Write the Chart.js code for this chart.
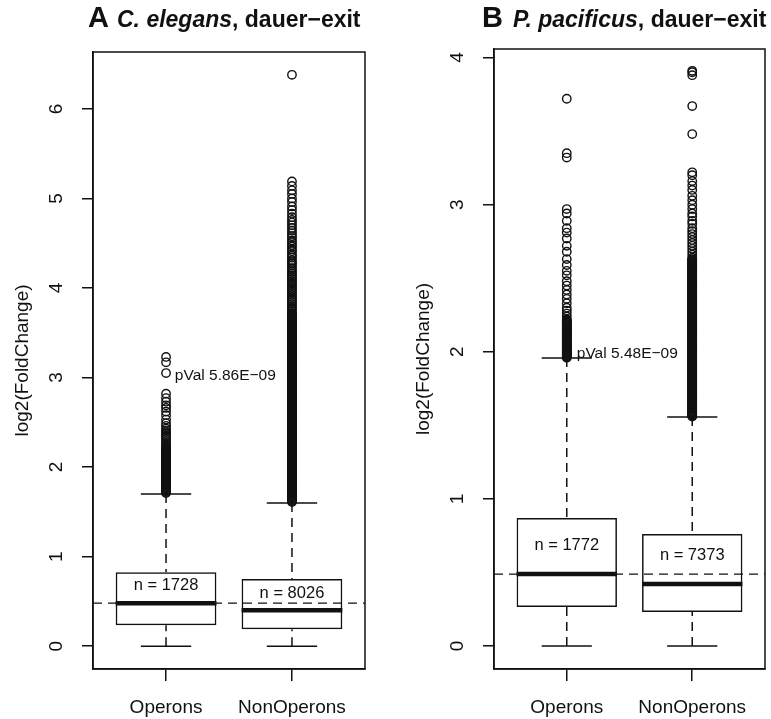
<!DOCTYPE html>
<html>
<head>
<meta charset="utf-8">
<script src="https://cdn.jsdelivr.net/npm/chart.js@4.4.1/dist/chart.umd.min.js"></script>
<style>
  html, body { margin: 0; padding: 0; background: #fff; }
  #wrap { position: relative; width: 771px; height: 719px; }
  canvas { position: absolute; top: 0; }
</style>
</head>
<body>
<div id="wrap">
  <canvas id="panelA" width="390" height="719" style="left:0"></canvas>
  <canvas id="panelB" width="381" height="719" style="left:390px"></canvas>
</div>
<script>
const FONT = "'Liberation Sans', Arial, Helvetica, sans-serif";
const INK = '#111';

// shared categories
const groups = ['Operons', 'NonOperons'];
const groupX = [1, 2];

// ---- panel A: C. elegans, dauer-exit
const aTicks = [0, 1, 2, 3, 4, 5, 6];
const aLow = [0, 0];
const aQ1 = [0.234, 0.19];
const aMedian = [0.48, 0.40];
const aQ3 = [0.826, 0.75];
const aHigh = [1.70, 1.60];
const aRefLine = 0.48;
const aCounts = ['n = 1728', 'n = 8026'];
const aCountY = [0.675, 0.586];
const aPval = 'pVal 5.86E\u221209';
const aPvalAt = [1.07, 3.015];
const aOutOperons = [3.23, 3.17, 3.05, 2.82, 2.77, 2.73, 2.69, 2.66, 2.62, 2.58, 2.53, 2.49, 2.46, 2.43,
  2.41, 2.39, 2.37, 2.35, 2.33, 2.31, 2.29, 2.27, 2.25, 2.23,
  2.22, 2.21, 2.20, 2.19, 2.18, 2.17, 2.16, 2.15, 2.14, 2.13, 2.12, 2.11, 2.10, 2.09, 2.08, 2.07,
  2.06, 2.05, 2.04, 2.03, 2.02, 2.01, 2.00, 1.99, 1.98, 1.97, 1.96, 1.95, 1.94, 1.93, 1.92, 1.91,
  1.90, 1.89, 1.88, 1.87, 1.86, 1.85, 1.84, 1.83, 1.82, 1.81, 1.80, 1.79, 1.78, 1.77, 1.76, 1.75,
  1.74, 1.73, 1.72, 1.71];
const aOutNon = [6.38, 5.19, 5.14, 5.09, 5.05, 5.00, 4.96, 4.91, 4.87, 4.83, 4.79, 4.76, 4.73, 4.70,
  4.67, 4.64, 4.61, 4.58, 4.56, 4.53, 4.51, 4.48, 4.46, 4.43, 4.41, 4.38, 4.36, 4.34, 4.31, 4.29, 4.27,
  4.25, 4.22, 4.20, 4.18, 4.16, 4.14, 4.12, 4.10, 4.08, 4.06, 4.04, 4.02, 4.00, 3.98, 3.96, 3.94, 3.92,
  3.90, 3.88, 3.86, 3.84, 3.82, 3.80, 3.78, 3.76, 3.74, 3.72,
  3.71, 3.70, 3.69, 3.68, 3.67, 3.66, 3.65, 3.64, 3.63, 3.62,
  3.61, 3.60, 3.59, 3.58, 3.57, 3.56, 3.55, 3.54, 3.53, 3.52,
  3.51, 3.50, 3.49, 3.48, 3.47, 3.46, 3.45, 3.44, 3.43, 3.42,
  3.41, 3.40, 3.39, 3.38, 3.37, 3.36, 3.35, 3.34, 3.33, 3.32,
  3.31, 3.30, 3.29, 3.28, 3.27, 3.26, 3.25, 3.24, 3.23, 3.22,
  3.21, 3.20, 3.19, 3.18, 3.17, 3.16, 3.15, 3.14, 3.13, 3.12,
  3.11, 3.10, 3.09, 3.08, 3.07, 3.06, 3.05, 3.04, 3.03, 3.02,
  3.01, 3.00, 2.99, 2.98, 2.97, 2.96, 2.95, 2.94, 2.93, 2.92,
  2.91, 2.90, 2.89, 2.88, 2.87, 2.86, 2.85, 2.84, 2.83, 2.82,
  2.81, 2.80, 2.79, 2.78, 2.77, 2.76, 2.75, 2.74, 2.73, 2.72,
  2.71, 2.70, 2.69, 2.68, 2.67, 2.66, 2.65, 2.64, 2.63, 2.62,
  2.61, 2.60, 2.59, 2.58, 2.57, 2.56, 2.55, 2.54, 2.53, 2.52,
  2.51, 2.50, 2.49, 2.48, 2.47, 2.46, 2.45, 2.44, 2.43, 2.42,
  2.41, 2.40, 2.39, 2.38, 2.37, 2.36, 2.35, 2.34, 2.33, 2.32,
  2.31, 2.30, 2.29, 2.28, 2.27, 2.26, 2.25, 2.24, 2.23, 2.22,
  2.21, 2.20, 2.19, 2.18, 2.17, 2.16, 2.15, 2.14, 2.13, 2.12,
  2.11, 2.10, 2.09, 2.08, 2.07, 2.06, 2.05, 2.04, 2.03, 2.02,
  2.01, 2.00, 1.99, 1.98, 1.97, 1.96, 1.95, 1.94, 1.93, 1.92,
  1.91, 1.90, 1.89, 1.88, 1.87, 1.86, 1.85, 1.84, 1.83, 1.82,
  1.81, 1.80, 1.79, 1.78, 1.77, 1.76, 1.75, 1.74, 1.73, 1.72,
  1.71, 1.70, 1.69, 1.68, 1.67, 1.66, 1.65, 1.64, 1.63, 1.62, 1.61];

// ---- panel B: P. pacificus, dauer-exit
const bTicks = [0, 1, 2, 3, 4];
const bLow = [0, 0];
const bQ1 = [0.265, 0.231];
const bMedian = [0.489, 0.421];
const bQ3 = [0.870, 0.761];
const bHigh = [1.958, 1.557];
const bRefLine = 0.489;
const bCounts = ['n = 1772', 'n = 7373'];
const bCountY = [0.683, 0.615];
const bPval = 'pVal 5.48E\u221209';
const bPvalAt = [1.08, 1.99];
const bOutOperons = [3.72, 3.35, 3.32, 2.97, 2.94, 2.89, 2.84, 2.81, 2.77, 2.72, 2.68, 2.63, 2.59, 2.55,
  2.52, 2.48, 2.45, 2.42, 2.39, 2.36, 2.33, 2.30, 2.28, 2.26, 2.24, 2.22,
  2.215, 2.210, 2.205, 2.200, 2.195, 2.190, 2.185, 2.180, 2.175, 2.170,
  2.165, 2.160, 2.155, 2.150, 2.145, 2.140, 2.135, 2.130, 2.125, 2.120,
  2.115, 2.110, 2.105, 2.100, 2.095, 2.090, 2.085, 2.080, 2.075, 2.070,
  2.065, 2.060, 2.055, 2.050, 2.045, 2.040, 2.035, 2.030, 2.025, 2.020,
  2.015, 2.010, 2.005, 2.000, 1.995, 1.990, 1.985, 1.980, 1.975, 1.970, 1.965, 1.960];
const bOutNon = [3.91, 3.90, 3.88, 3.67, 3.48, 3.22, 3.20, 3.16, 3.13, 3.10, 3.06, 3.03, 3.00, 2.97, 2.94,
  2.92, 2.89, 2.87, 2.84, 2.82, 2.80, 2.78, 2.76, 2.74, 2.72, 2.70, 2.68, 2.66, 2.64,
  2.630, 2.625, 2.620, 2.615, 2.610, 2.605, 2.600, 2.595, 2.590, 2.585,
  2.580, 2.575, 2.570, 2.565, 2.560, 2.555, 2.550, 2.545, 2.540, 2.535,
  2.530, 2.525, 2.520, 2.515, 2.510, 2.505, 2.500, 2.495, 2.490, 2.485,
  2.480, 2.475, 2.470, 2.465, 2.460, 2.455, 2.450, 2.445, 2.440, 2.435,
  2.430, 2.425, 2.420, 2.415, 2.410, 2.405, 2.400, 2.395, 2.390, 2.385,
  2.380, 2.375, 2.370, 2.365, 2.360, 2.355, 2.350, 2.345, 2.340, 2.335,
  2.330, 2.325, 2.320, 2.315, 2.310, 2.305, 2.300, 2.295, 2.290, 2.285,
  2.280, 2.275, 2.270, 2.265, 2.260, 2.255, 2.250, 2.245, 2.240, 2.235,
  2.230, 2.225, 2.220, 2.215, 2.210, 2.205, 2.200, 2.195, 2.190, 2.185,
  2.180, 2.175, 2.170, 2.165, 2.160, 2.155, 2.150, 2.145, 2.140, 2.135,
  2.130, 2.125, 2.120, 2.115, 2.110, 2.105, 2.100, 2.095, 2.090, 2.085,
  2.080, 2.075, 2.070, 2.065, 2.060, 2.055, 2.050, 2.045, 2.040, 2.035,
  2.030, 2.025, 2.020, 2.015, 2.010, 2.005, 2.000, 1.995, 1.990, 1.985,
  1.980, 1.975, 1.970, 1.965, 1.960, 1.955, 1.950, 1.945, 1.940, 1.935,
  1.930, 1.925, 1.920, 1.915, 1.910, 1.905, 1.900, 1.895, 1.890, 1.885,
  1.880, 1.875, 1.870, 1.865, 1.860, 1.855, 1.850, 1.845, 1.840, 1.835,
  1.830, 1.825, 1.820, 1.815, 1.810, 1.805, 1.800, 1.795, 1.790, 1.785,
  1.780, 1.775, 1.770, 1.765, 1.760, 1.755, 1.750, 1.745, 1.740, 1.735,
  1.730, 1.725, 1.720, 1.715, 1.710, 1.705, 1.700, 1.695, 1.690, 1.685,
  1.680, 1.675, 1.670, 1.665, 1.660, 1.655, 1.650, 1.645, 1.640, 1.635,
  1.630, 1.625, 1.620, 1.615, 1.610, 1.605, 1.600, 1.595, 1.590, 1.585,
  1.580, 1.575, 1.570, 1.565, 1.560];

const X_MIN = 0.42, X_MAX = 2.58;
const BOX_HALF = 0.4, CAP_HALF = 0.2;

// draws titles, frame and the in-plot text labels
const decor = {
  id: 'decor',
  afterDraw(chart, args, o) {
    const { ctx, chartArea: a, scales: { x, y } } = chart;
    ctx.save();
    ctx.strokeStyle = INK; ctx.lineWidth = 1.5;
    ctx.strokeRect(a.left, a.top, a.right - a.left, a.bottom - a.top);
    ctx.fillStyle = INK; ctx.textAlign = 'left'; ctx.textBaseline = 'alphabetic';
    ctx.font = `bold 29px ${FONT}`;
    ctx.fillText(o.letter, o.letterX, 27);
    ctx.font = `italic bold 23px ${FONT}`;
    ctx.fillText(o.species, o.textX, 27);
    const w = ctx.measureText(o.species).width;
    ctx.font = `bold 23px ${FONT}`;
    ctx.fillText(', dauer\u2212exit', o.textX + w, 27);
    ctx.textBaseline = 'middle';
    ctx.textAlign = 'center';
    ctx.font = `16.5px ${FONT}`;
    o.counts.forEach((t, i) => ctx.fillText(t, x.getPixelForValue(groupX[i]), y.getPixelForValue(o.countY[i])));
    ctx.textAlign = 'left';
    ctx.font = `15.5px ${FONT}`;
    ctx.fillText(o.pval, x.getPixelForValue(o.pvalAt[0]), y.getPixelForValue(o.pvalAt[1]));
    ctx.restore();
  }
};

function panel(canvas, p) {
  const gap = (i) => ({ x: groupX[i], y: null });
  const whiskers = groupX.flatMap((gx, i) => [
    { x: gx, y: p.high[i] }, { x: gx, y: p.q3[i] }, gap(i),
    { x: gx, y: p.low[i] }, { x: gx, y: p.q1[i] }, gap(i)]);
  const caps = groupX.flatMap((gx, i) => [
    { x: gx - CAP_HALF, y: p.high[i] }, { x: gx + CAP_HALF, y: p.high[i] }, gap(i),
    { x: gx - CAP_HALF, y: p.low[i] }, { x: gx + CAP_HALF, y: p.low[i] }, gap(i)]);
  const medians = groupX.flatMap((gx, i) => [
    { x: gx - BOX_HALF, y: p.median[i] }, { x: gx + BOX_HALF, y: p.median[i] }, gap(i)]);
  const boxes = groupX.map((gx, i) => ({ x: gx, y: [p.q1[i], p.q3[i]] }));
  const outliers = p.out.flatMap((vals, i) => vals.map((v) => ({ x: groupX[i], y: v })));
  const line = { type: 'line', pointRadius: 0, tension: 0, fill: false, spanGaps: false, borderColor: INK, borderCapStyle: 'butt' };

  return new Chart(canvas.getContext('2d'), {
    type: 'scatter',
    data: {
      datasets: [
        { ...line, order: 0, data: [{ x: X_MIN, y: p.ref }, { x: X_MAX, y: p.ref }], borderWidth: 1.3, borderDash: [9, 6] },
        { ...line, order: 1, data: medians, borderWidth: 4.5 },
        { type: 'bar', order: 2, data: boxes, backgroundColor: 'rgba(0,0,0,0)', borderColor: INK, borderWidth: 1.5,
          borderSkipped: false, barPercentage: 0.8, categoryPercentage: 1 },
        { type: 'scatter', order: 3, data: outliers, pointStyle: 'circle', pointRadius: 4.2, pointBorderWidth: 1.4,
          pointBackgroundColor: 'rgba(0,0,0,0)', pointBorderColor: INK },
        { ...line, order: 4, data: caps, borderWidth: 1.5 },
        { ...line, order: 5, data: whiskers, borderWidth: 1.5, borderDash: [9, 6] }
      ]
    },
    options: {
      responsive: false, animation: false, events: [],
      layout: { padding: { top: p.top, left: p.padLeft, right: p.padRight, bottom: 0 } },
      plugins: {
        legend: { display: false }, tooltip: { enabled: false },
        decor: { letter: p.letter, letterX: p.letterX, species: p.species, textX: p.textX,
          counts: p.counts, countY: p.countY, pval: p.pval, pvalAt: p.pvalAt }
      },
      scales: {
        x: {
          type: 'linear', min: X_MIN, max: X_MAX, offset: false,
          afterBuildTicks: (s) => { s.ticks = groupX.map((v) => ({ value: v })); },
          afterFit: (s) => { s.height = 50; s.paddingLeft = 0; s.paddingRight = 0; },
          ticks: { callback: (v, i) => groups[i], font: { family: FONT, size: 19 }, color: INK, padding: 15, maxRotation: 0, autoSkip: false },
          grid: { drawOnChartArea: false, tickLength: 12, color: INK, lineWidth: 1.5, offset: false },
          border: { display: true, color: INK, width: 1.5 }
        },
        y: {
          type: 'linear', min: p.yMin, max: p.yMax,
          afterBuildTicks: (s) => { s.ticks = p.ticks.map((v) => ({ value: v })); },
          afterFit: (s) => { s.width = 93; s.paddingTop = 0; s.paddingBottom = 0; },
          ticks: { font: { family: FONT, size: 19 }, color: INK, padding: 20, minRotation: 90, maxRotation: 90, crossAlign: 'center', autoSkip: false },
          grid: { drawOnChartArea: false, tickLength: 11, color: INK, lineWidth: 1.5 },
          border: { display: true, color: INK, width: 1.5 },
          title: { display: true, text: 'log2(FoldChange)', font: { family: FONT, size: 19 }, color: INK, padding: { top: 11 } }
        }
      }
    },
    plugins: [decor]
  });
}

panel(document.getElementById('panelA'), {
  top: 52, padLeft: 0, padRight: 25, yMin: -0.255, yMax: 6.635, ticks: aTicks,
  low: aLow, q1: aQ1, median: aMedian, q3: aQ3, high: aHigh, ref: aRefLine,
  out: [aOutOperons, aOutNon], counts: aCounts, countY: aCountY, pval: aPval, pvalAt: aPvalAt,
  letter: 'A', letterX: 88, species: 'C. elegans', textX: 117
});

panel(document.getElementById('panelB'), {
  top: 49, padLeft: 11, padRight: 6, yMin: -0.156, yMax: 4.058, ticks: bTicks,
  low: bLow, q1: bQ1, median: bMedian, q3: bQ3, high: bHigh, ref: bRefLine,
  out: [bOutOperons, bOutNon], counts: bCounts, countY: bCountY, pval: bPval, pvalAt: bPvalAt,
  letter: 'B', letterX: 92, species: 'P. pacificus', textX: 123
});
</script>
</body>
</html>
